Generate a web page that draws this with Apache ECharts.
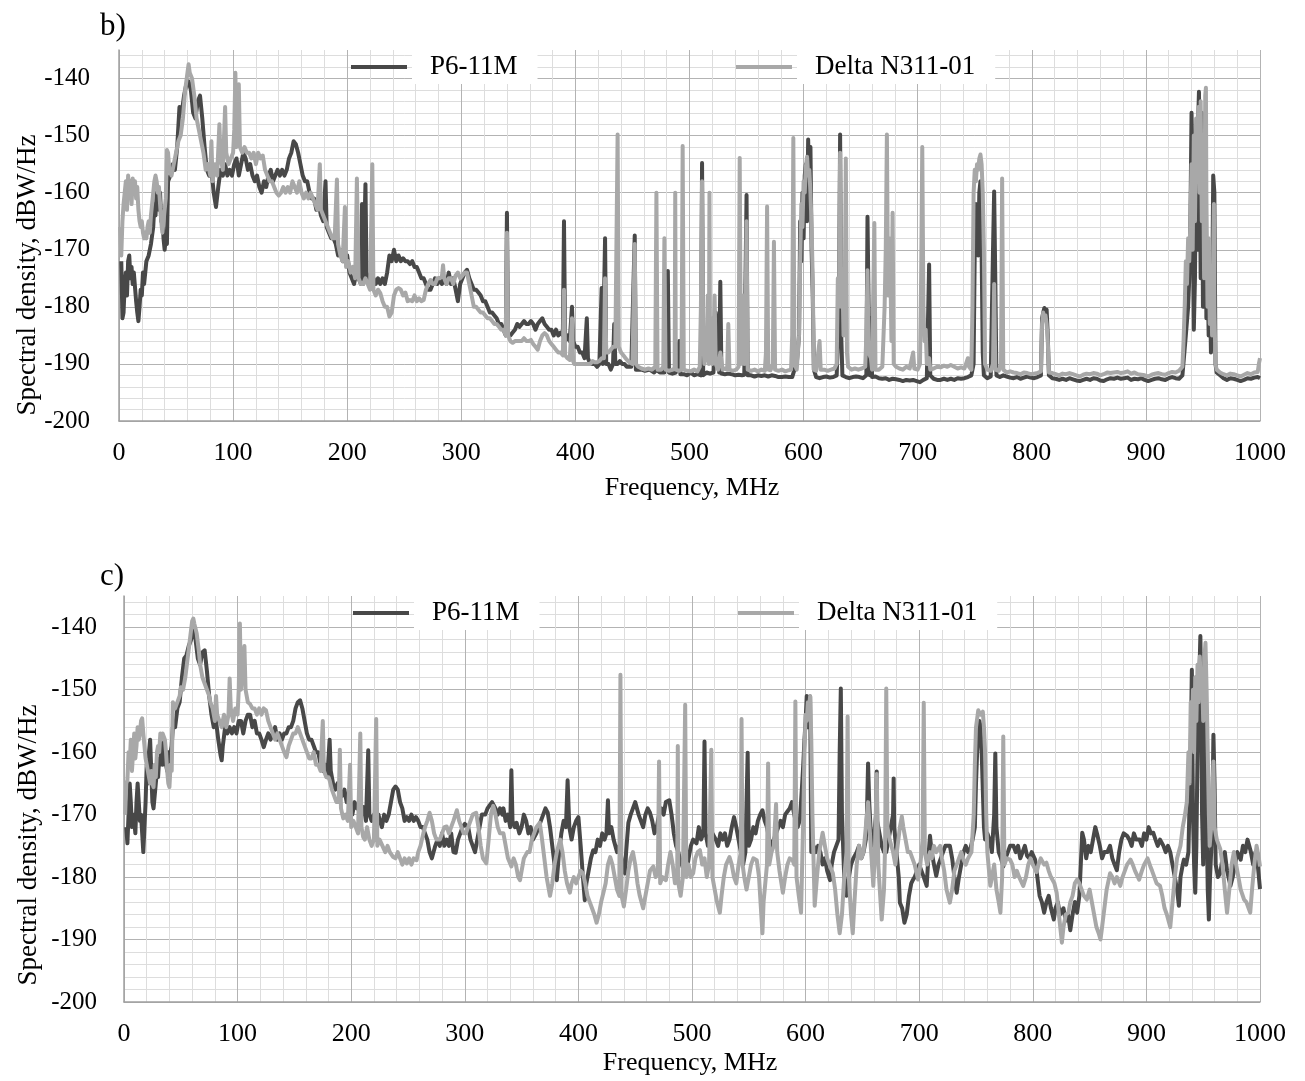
<!DOCTYPE html>
<html>
<head>
<meta charset="utf-8">
<script src="https://cdn.jsdelivr.net/npm/echarts@6/dist/echarts.min.js"></script>
<style>
html,body{margin:0;padding:0;background:#ffffff;}
#chart{width:1305px;height:1081px;}
</style>
</head>
<body>
<div id="chart"></div>
<script>
// ---------- labels ----------
const seriesNames = ['P6-11M', 'Delta N311-01'];
const panelLabels = ['b)', 'c)'];
const xName = 'Frequency, MHz';
const yName = 'Spectral density, dBW/Hz';

// ---------- panel b) : P6-11M ----------
const p6_b = [
[2,-172],[3,-182],[4,-181],[5,-176],[6,-174],[7,-178],[8,-172],[9,-171],[10,-175],[11,-173],[12,-176],[13,-174],[15,-179],[16,-181],[17,-182.5],[18,-180],[19,-177],[20,-178],[21,-174],[22,-176],[24,-172],[26,-171],[28,-169],[30,-166],[31,-162],[32,-164],[33,-160],[34,-161],[35,-163],[36,-160],[37,-165],[38,-163],[39,-168],[40,-170],[41,-168],[42,-169],[43,-158],[45,-157],[47,-155],[49,-156],[51,-152],[53,-145],[55,-146],[57,-143],[59,-141],[61,-140.5],[63,-142],[65,-146],[67,-147],[69,-144],[71,-143],[73,-147],[75,-152],[77,-156],[79,-157],[81,-156],[83,-160],[85,-162.5],[87,-159],[89,-156],[91,-157],[93,-155],[95,-157],[97,-156],[99,-157],[101,-155],[103,-154],[105,-157],[107,-155],[109,-153],[111,-154],[113,-156],[115,-155],[117,-157],[119,-158],[121,-157],[123,-159],[125,-160],[127,-158],[129,-159],[131,-157],[133,-156],[135,-158],[137,-157],[139,-156],[141,-157],[143,-156],[145,-157],[147,-156],[149,-154],[151,-153],[153,-151],[155,-151.5],[157,-153],[159,-155],[161,-157],[163,-158],[165,-158],[167,-160],[169,-161],[171,-161],[173,-163],[175,-162],[177,-164],[179,-165],[181,-158],[182,-166],[184,-167],[186,-168],[188,-168],[190,-169],[192,-171],[194,-170],[196,-172],[198,-172],[200,-171],[202,-174],[204,-175],[206,-176],[208,-174],[210,-175],[212,-176],[213,-162],[214,-176],[216,-158.5],[217,-175],[219,-175],[221,-174],[223,-175],[225,-176],[227,-175],[229,-176],[231,-175],[233,-176],[235,-174],[237,-171],[239,-172],[241,-170],[243,-172],[245,-171],[247,-172],[249,-171.5],[251,-172],[253,-172],[255,-172.5],[257,-172],[259,-173],[261,-173],[263,-174],[265,-175],[267,-175],[269,-176],[271,-177],[273,-177],[275,-176],[277,-175],[279,-176],[281,-175],[283,-176],[285,-175],[287,-176],[289,-174],[291,-176],[293,-175],[295,-177],[297,-179],[299,-176],[301,-175],[303,-174],[305,-173.5],[307,-175],[309,-176],[311,-177],[313,-177],[315,-177.5],[317,-178],[319,-179],[321,-179],[323,-180],[325,-181],[327,-181],[329,-181.5],[331,-182],[333,-183],[335,-183],[337,-184],[339,-185],[340,-163.5],[341,-185],[343,-185],[345,-184.5],[347,-184],[349,-183],[351,-183.5],[353,-183],[355,-182.5],[357,-183],[359,-183],[361,-182.5],[363,-183],[365,-184],[367,-183],[369,-182.5],[371,-182],[373,-183],[375,-183.5],[377,-184],[379,-184],[381,-185],[383,-184],[385,-185],[387,-184.5],[389,-185],[390,-165],[391,-186],[393,-185],[395,-186],[397,-180],[398,-186],[400,-187],[402,-187],[404,-188],[406,-188],[408,-189],[410,-182],[411,-189],[413,-190],[415,-190],[417,-190],[419,-190.5],[421,-190],[423,-176.7],[424,-190],[426,-168],[427,-190],[429,-190],[431,-191],[433,-190],[434,-183],[435,-190],[437,-190],[439,-189.5],[441,-190],[443,-190],[445,-190.5],[447,-190.5],[449,-190.5],[452,-167.5],[453,-191],
[455,-191],[458,-191],[461,-191.2],[465,-191],[469,-191.5],[471,-191],[474,-191.5],[478,-191.5],[481,-173.7],[482,-191.5],[485,-191.7],[488,-191.5],[491,-186],[492,-191.8],[495,-191.8],[498,-192],[501,-191.5],[504,-192],[507,-191.8],[510,-192],[511,-154.8],[512,-192],[515,-191.5],[518,-191.7],[521,-191.5],[523,-181],[524,-184],[525,-186],[526,-191.5],[527,-175.6],[528,-191.7],[531,-191.8],[534,-191.7],[537,-191.8],[540,-192],[543,-191.9],[546,-192],[548,-191.9],[550,-160.4],[551,-192],[554,-192],[557,-192.2],[560,-192],[563,-192.1],[566,-192],[569,-192.2],[572,-192],[575,-192.1],[578,-192.3],[581,-192.3],[584,-192.2],[587,-192.3],[590,-192.3],[592,-191],[594,-190],[596,-185],[597,-165],[598,-172],[599,-160],[600,-168],[601,-157],[602,-155],[603,-165],[604,-150.7],[605,-160],[606,-152],[607,-170],[608,-178],[609,-191],[611,-192.3],[614,-192.5],[617,-192.3],[620,-192.2],[623,-192.4],[626,-192.3],[629,-192],[631,-180],[632,-149.8],[633,-185],[634,-192],[637,-192.3],[640,-192.5],[643,-192.3],[646,-192.2],[649,-192.3],[652,-192.5],[655,-192],[656,-164.2],[657,-180],[658,-192],[659,-182],[660,-192.3],[663,-192.2],[666,-192.5],[669,-192.6],[672,-192.5],[675,-192.8],[678,-192.6],[681,-192.7],[684,-192.8],[687,-193],[690,-192.8],[693,-192.9],[696,-192.8],[699,-193],[702,-193.2],[705,-192.8],[708,-192.5],[710,-172.6],[711,-192],[714,-192.6],[717,-192.8],[720,-192.8],[723,-192.6],[726,-192.8],[729,-192.6],[732,-192.8],[735,-192.5],[738,-192.6],[741,-192.5],[744,-192.3],[747,-192],[749,-190],[750,-170],[751,-162],[752,-165],[753,-171],[754,-160],[755,-158],[756,-170],[757,-188],[758,-192],[761,-192.5],[764,-192.2],[766,-170],[767,-159.8],[768,-175],[769,-192],[772,-192.3],[775,-192],[778,-192.2],[781,-192.4],[784,-192.5],[787,-192.3],[790,-192.6],[793,-192.4],[796,-192.2],[799,-192.4],[802,-192.5],[805,-192.3],[808,-192],[809,-182],[810,-181],[811,-180.2],[812,-181],[813,-180.5],[814,-185],[815,-192],[818,-192.5],[821,-192.6],[824,-192.8],[827,-192.6],[830,-192.8],[833,-192.5],[836,-192.7],[839,-192.9],[842,-193],[845,-192.8],[848,-192.6],[851,-192.8],[854,-192.5],[857,-192.6],[860,-192.9],[863,-193],[866,-192.7],[869,-192.5],[872,-192.6],[875,-192.4],[878,-192.6],[881,-192.5],[884,-192.4],[887,-192.8],[890,-192.6],[893,-192.7],[896,-192.5],[899,-192.8],[902,-193],[905,-192.8],[908,-192.6],[911,-192.5],[914,-192.7],[917,-192.8],[920,-192.5],[923,-192.3],[926,-192.5],[929,-192.6],[932,-192],[935,-185],[937,-180],[938,-175],[939,-165],[940,-146],[941,-160],[942,-184],[943,-175],[944,-150],[945,-170],[946,-146],[946.5,-142.3],[947,-150],[948,-175],[949,-146],[950,-180],[951,-170],[952,-150],[953,-182],[954,-172],[955,-185],[956,-175],[957,-188],[958,-180],[959,-157],[960,-160],[961,-190],[962,-191.5],[965,-192],[968,-192.5],[971,-192.8],[974,-192.5],[977,-192.6],[980,-192.8],[983,-193],[986,-192.8],[989,-192.5],[992,-192.6],[995,-192.4],[998,-192.3],[1000,-192.5]
];

// ---------- panel b) : Delta N311-01 ----------
const delta_b = [
[1,-166],[2,-171],[3,-165],[4,-162],[5,-160],[6,-158],[7,-163],[8,-157],[9,-160],[10,-158],[11,-162],[12,-157.5],[13,-160],[14,-158],[15,-161],[16,-159],[17,-163],[18,-165],[19,-166],[20,-165],[21,-167],[22,-168],[23,-167],[24,-168],[25,-166],[26,-165],[27,-167],[28,-164],[29,-162],[30,-160],[31,-158],[32,-157],[33,-158],[34,-160],[35,-159],[36,-162],[37,-165],[38,-167],[39,-165],[40,-163],[41,-161],[42,-152.5],[43,-153],[44,-156],[46,-157],[48,-155],[50,-153],[52,-151],[54,-150],[56,-147],[58,-142],[60,-139],[61,-137.5],[62,-139],[64,-140],[66,-143],[68,-147],[70,-149],[72,-151],[74,-153],[76,-156],[78,-155],[80,-157],[81,-151],[82,-158],[84,-155],[86,-157],[88,-148],[89,-154],[91,-156],[93,-145],[94,-153],[96,-155],[98,-154],[100,-153],[101,-149],[102,-139],[103,-152],[104,-150],[105,-141],[106,-152],[108,-153],[110,-152],[112,-153],[114,-153],[116,-154],[118,-153],[120,-155],[122,-153],[124,-154],[126,-153.5],[128,-156],[130,-157],[132,-158],[134,-158],[136,-159],[138,-160],[140,-160.5],[142,-160],[144,-159],[146,-160],[148,-159],[150,-160],[152,-158],[154,-159],[156,-160],[158,-158],[160,-160],[162,-161],[164,-160],[166,-161],[168,-160],[170,-161],[172,-162],[174,-163],[176,-155],[177,-163],[179,-164],[181,-165],[183,-166],[185,-167],[187,-168],[189,-168],[191,-157.7],[192,-169],[194,-171],[196,-172],[198,-162.5],[199,-173],[201,-172],[203,-174],[205,-173],[207,-175],[208.5,-157.5],[210,-175],[212,-176],[214,-176],[216,-175],[218,-176],[220,-177],[222,-155],[223,-177],[225,-178],[227,-177],[229,-177.6],[231,-179],[233,-180],[235,-180],[237,-181.7],[239,-181],[241,-178],[243,-177],[245,-176.7],[247,-177],[249,-178],[251,-177.5],[253,-179],[255,-178.8],[257,-179],[259,-178],[261,-179],[263,-178.5],[265,-179],[267,-178.8],[269,-177],[271,-176],[273,-175.3],[275,-176],[277,-176],[279,-175],[281,-175],[283,-174.7],[284,-172.7],[285,-175],[287,-176],[289,-175],[291,-175],[293,-176],[295,-174.5],[297,-174],[299,-175],[301,-174.5],[303,-174],[305,-174],[307,-176],[309,-178],[311,-180],[313,-180],[315,-180.5],[317,-181],[319,-181],[321,-181.5],[323,-182],[325,-182],[327,-182.5],[329,-183],[331,-183],[333,-183.5],[335,-184],[337,-184],[339,-185],[340,-167],[341,-185],[343,-186],[345,-186.3],[347,-186],[349,-186],[351,-186],[353,-186],[355,-185.5],[357,-186],[359,-186],[361,-185.8],[363,-186.5],[365,-187],[367,-187.5],[369,-186],[371,-185],[373,-184.6],[375,-185],[377,-186],[379,-186.5],[381,-187],[383,-187.5],[385,-188],[387,-188],[389,-188.5],[390,-177],[391,-188.5],[393,-189],[395,-189.3],[397,-182],[398,-189.5],[399,-190],[401,-190],[403,-190],[405,-190],[407,-190],[409,-190],[411,-190],[413,-190],[415,-189.5],[417,-189.7],[419,-189.7],[421,-189.5],[423,-189],[425,-189],[426,-175],[427,-188],[429,-188],[431,-187.5],[433,-187],[435,-187],[437,-149.8],[438,-187],[440,-188],[442,-188.5],[444,-189],[446,-189.5],[448,-189.8],[450,-190],[452,-169],[453,-190],
[455,-190.5],[458,-190.8],[461,-191],[464,-190.8],[467,-191],[470,-190.5],[471,-160],[472,-191],[475,-191],[477,-190.5],[478,-168],[479,-191],[482,-191.2],[485,-191],[487,-190.8],[487.5,-160],[488,-191],[491,-191.2],[493,-191],[494,-151.8],[495,-191],[498,-191.2],[501,-191.3],[504,-191],[507,-191.3],[509,-190.5],[510,-180],[511,-158],[512,-185],[513,-190],[515,-188],[516,-178],[517,-190],[517.5,-160],[518,-188],[519,-182],[520,-190],[521,-186],[522,-178],[523,-190],[525,-191],[527,-188],[529,-191],[531,-190.8],[533,-191],[534,-183],[535,-191],[538,-191.2],[541,-191],[543,-190.5],[544,-153.9],[545,-190],[546,-186],[547,-178],[548,-190],[549,-185],[550,-165],[551,-191],[554,-191.2],[557,-191],[560,-191.3],[563,-191],[566,-191.2],[567,-188],[568,-162.4],[569,-191],[571,-191.1],[573,-190],[574,-168.6],[575,-191],[578,-191.2],[581,-191],[584,-191.3],[587,-191.1],[589,-191],[590,-185],[591,-150.4],[592,-190],[594,-191],[596,-185],[597,-172],[598,-162],[599,-166],[600,-158],[601,-160],[602,-155.5],[603,-153.7],[604,-157],[605,-156],[606,-160],[607,-166],[608,-175],[609,-191],[611,-191.2],[614,-186],[615,-191],[618,-191],[621,-191.2],[624,-191],[627,-190.8],[629,-190],[630,-175],[631,-180],[632,-153],[633,-180],[634,-175],[635,-185],[636,-180],[637,-154],[638,-188],[639,-190.5],[642,-191],[645,-190.8],[648,-191],[651,-190.8],[654,-190.5],[655,-185],[656,-173.6],[657,-188],[659,-189],[660,-191],[662,-165.3],[663,-191],[666,-191],[669,-190.5],[671,-180],[672,-170],[673,-149.8],[674,-178],[675,-168],[676,-173],[677,-186],[678,-163.5],[679,-190],[681,-190.5],[684,-190.8],[687,-191],[690,-190.5],[693,-190.8],[696,-188],[697,-190.8],[700,-191],[702,-190],[703,-175],[704,-152],[705,-180],[706,-186],[707,-184],[708,-190],[710,-189],[711,-191],[714,-190.8],[717,-190.5],[720,-190.6],[723,-190.3],[726,-190.5],[729,-190.2],[732,-190.5],[735,-190.8],[738,-190.6],[741,-190.8],[744,-189],[745,-190.5],[747,-191],[748,-180],[749,-160],[750,-156],[751,-158],[752,-155],[753,-156],[754,-154],[755,-153.3],[756,-155],[757,-160],[758,-170],[759,-190],[761,-191],[764,-191.2],[766,-190],[767,-176],[768,-191],[771,-191.2],[773,-190],[774,-157.5],[775,-191],[778,-191.5],[781,-191.3],[784,-191.5],[787,-191.6],[790,-191.8],[793,-191.5],[796,-191.6],[799,-191.8],[802,-191.7],[805,-191.6],[808,-191.3],[809,-183],[810,-181],[811,-182],[812,-181.5],[813,-183],[814,-186],[815,-191.5],[818,-191.6],[821,-191.8],[824,-192],[827,-191.7],[830,-191.8],[833,-191.6],[836,-191.8],[839,-192],[842,-192.2],[845,-191.9],[848,-191.7],[851,-191.8],[854,-191.6],[857,-191.7],[860,-192],[863,-191.8],[866,-191.5],[869,-191.6],[872,-191.5],[875,-191.4],[878,-191.6],[881,-191.5],[884,-191.3],[887,-191.7],[890,-191.5],[893,-191.8],[896,-191.9],[899,-192],[902,-192.2],[905,-191.9],[908,-191.7],[911,-191.6],[914,-191.8],[917,-191.9],[920,-191.6],[923,-191.4],[926,-191.5],[929,-191.2],[932,-190.5],[933,-186],[934,-180],[935,-172],[936,-176],[937,-168],[938,-172],[939,-165],[940,-155],[941,-170],[942,-150],[943,-165],[944,-147],[945,-158],[946,-145],[947,-160],[948,-144],[949,-165],[950,-150],[951,-175],[952,-143],[952.6,-141.6],[953,-160],[954,-180],[955,-168],[956,-183],[957,-175],[958,-185],[959,-170],[959.6,-162],[960,-180],[961,-190],[962,-191],[965,-191.5],[968,-191.8],[971,-192],[974,-191.7],[977,-191.8],[980,-192],[983,-192.2],[986,-191.9],[989,-191.6],[992,-191.8],[995,-191.5],[998,-191.4],[999,-190],[1000,-189]
];

// ---------- panel c) : P6-11M ----------
const p6_c = [
[2,-172],[3,-174.6],[4,-170],[5,-165],[6,-168],[7,-172],[8,-170],[9,-171],[10,-173],[11,-168],[12,-165],[13,-168],[14,-171],[15,-170],[16,-173],[17,-176],[18,-172],[19,-168],[20,-162],[21,-165],[22,-160],[23,-158],[24,-163],[25,-168],[26,-169],[27,-167],[28,-165],[29,-163],[30,-164],[31,-161],[32,-162],[33,-158],[34,-162],[35,-158],[36,-160],[37,-162],[38,-163],[39,-160],[40,-163],[41,-160],[42,-159],[43,-156],[45,-156],[47,-153],[49,-152],[51,-148],[53,-145],[55,-144.5],[57,-143],[59,-142],[61,-140],[63,-142],[65,-145],[67,-146],[69,-144],[71,-143.7],[73,-147],[75,-151],[77,-154],[79,-156],[81,-155],[83,-158],[85,-160.5],[86,-161.3],[87,-159],[89,-156],[91,-157],[93,-156],[95,-157],[97,-156],[99,-157],[101,-155],[103,-155],[105,-157],[107,-155],[109,-154],[111,-154],[113,-156],[115,-155],[117,-157],[119,-157],[121,-158],[123,-159.2],[125,-158],[127,-157],[129,-158],[131,-157],[133,-156],[135,-158],[137,-157],[139,-158],[141,-157],[143,-157],[145,-156],[147,-156],[149,-155],[151,-153],[153,-152],[155,-151.7],[157,-153],[159,-155],[161,-157],[163,-158],[165,-158],[167,-159],[169,-160],[171,-160],[173,-162],[175,-163],[177,-162],[179,-164],[181,-158],[182,-163],[184,-165],[186,-166],[188,-165],[190,-166.6],[192,-167],[194,-166],[196,-168],[198,-167],[199,-167.7],[201,-170],[203,-168],[205,-169],[207,-168],[209,-170],[211,-168.8],[213,-171],[215,-159.7],[216,-170],[218,-171],[220,-170],[222,-171],[224,-170],[225,-170.8],[227,-172],[229,-170],[231,-171],[233,-170],[235,-168],[237,-166],[239,-165.5],[241,-166],[243,-168],[245,-169],[247,-171],[249,-170.4],[251,-171],[253,-170],[255,-171],[257,-170.4],[259,-171],[261,-172],[263,-172],[265,-173],[267,-174],[269,-176],[271,-177],[272,-177.2],[274,-175],[276,-174],[278,-175],[280,-173],[282,-175],[284,-174],[286,-175],[288,-173],[290,-176],[292,-176.1],[294,-174],[296,-173],[298,-172],[300,-171.5],[301,-171.3],[303,-172],[305,-174],[307,-175],[309,-176],[311,-174],[313,-172],[315,-170],[316,-169.7],[318,-170],[320,-169],[322,-168.5],[324,-168],[325,-168],[327,-169],[329,-170],[331,-169],[333,-170],[334,-169],[336,-171],[338,-170],[340,-172],[341,-162.9],[342,-171],[344,-172],[345.6,-171.3],[348,-173],[350,-172],[352,-170],[354,-171],[356,-173],[358,-172],[360,-174],[363,-173],[365,-172],[367,-171],[369,-170],[371,-169],[373,-169.7],[375,-172],[377,-175],[379,-178],[381,-180.5],[383,-176],[385,-173],[387,-171],[389,-172],[390.5,-164.5],[392,-172],[394,-174],[396,-172],[398,-171],[400,-170.4],[402,-175],[404,-180],[405.6,-183.7],[407,-181],[409,-179],[411,-177],[413,-175.7],[415,-176],[417,-174],[419,-175],[421,-173],[423,-174],[424.7,-173],[426,-167.7],[427,-173],[429,-172],[431,-174],[432,-174],[434,-176],[436,-175],[438,-177],[440,-179],[441,-179.4],[442,-176],[444,-171.3],[446,-170],[448,-169],[450,-168],[451,-168],[453,-170],[455,-171],[457,-172],[459,-170],[461,-169],[463,-169.7],[465,-171],[467,-173],[469,-172],[471,-170],[473,-169],[475,-170],[477,-168],[480,-167.7],[482,-170],[484,-173],[486,-175],[488,-176],[489,-176.8],[491,-178],[493,-179],[495,-179.4],[497,-177],[499,-175],[501,-174],[504,-174.6],[506,-172],[508,-174],[510,-173],[511,-158.3],[512,-173],[514,-175],[516,-174],[518,-173],[521,-174],[523,-175],[525,-173],[527,-174],[529,-173],[531,-175],[533,-174],[535,-172],[537,-170.4],[539,-172],[541,-174],[543,-176],[545,-178],[547,-176],[549,-160.1],[550,-175],[552,-174],[554,-172],[556,-173],[558,-171],[560,-170],[562,-169.3],[564,-171],[566,-172],[568,-174],[570,-175],[572,-174],[574,-173],[576,-172],[578,-171],[580,-172],[582,-170],[584,-169.5],[586,-169],[588,-168],[590,-170],[591,-170.8],[593,-172],[595,-170.8],[597,-165],[598,-161.8],[599,-158],[600,-155],[601,-151],[602,-156],[603,-152],[604,-151.1],[605,-176],[607,-175],[609,-176],[611,-175],[613,-176],[615,-178],[617,-177],[619,-179],[621.5,-180.5],[623,-178],[625,-176],[627,-175],[629,-174],[630,-160],[631,-149.8],[632,-170],[634,-180],[636,-183],[638,-180],[640,-178],[642,-177],[645,-176],[647,-175],[649,-177],[651,-176],[653,-174],[654,-170],[655,-161.8],[656,-168],[658,-175],[660,-174],[662,-170],[662.6,-163.1],[663,-171],[665,-173],[667,-175],[669,-176],[671,-176],[673,-174],[675,-172],[677,-170],[677.5,-164.2],[678,-172],[680,-176],[682,-180],[683,-184.1],[685,-185],[687,-187.3],[689,-186],[691,-183],[693,-181],[694.6,-180.4],[696,-180],[698,-179],[700,-178],[702,-179],[704,-180],[706.6,-181.4],[708,-177],[709.5,-173.4],[711,-176],[713,-178],[715,-179.8],[717,-178],[719,-177],[721,-176],[723,-175],[725,-175],[727,-175],[729,-177],[731,-180],[733,-182.5],[735,-180],[737,-178],[739,-176],[741,-175],[743,-176],[745,-175.5],[747,-174],[749,-172],[750,-165],[751,-160],[752,-157],[753,-155],[754,-156],[755,-160],[756,-166],[757,-172],[758,-174],[760,-173],[762,-174],[764,-176],[766,-170],[767,-160.2],[768,-172],[770,-176],[772,-177],[774,-178.3],[776,-177],[778,-176],[780,-175],[783,-175],[785,-176],[787,-175],[789,-177],[791,-176],[793,-175],[795,-176.6],[797,-177],[799,-176],[802,-177.2],[804,-180],[806,-183],[808,-184],[810,-185.7],[812,-184],[814,-183],[816,-185],[818.5,-186.8],[820,-185],[822,-184],[824,-186],[827,-185],[829,-187],[831,-186],[833,-188.5],[835,-186],[837,-184],[839,-185.7],[841,-183],[843.5,-172.9],[845,-174],[847,-177],[849,-175],[851,-176],[853,-174],[855,-172],[857,-173.4],[859,-175],[861,-177],[863,-176],[865.6,-176],[868,-175],[870,-177],[872,-178],[874,-178.9],[876,-176],[878,-174],[880,-173],[883,-173.4],[885,-174],[887,-175],[889,-173],[891,-174],[894,-174],[896,-175],[898,-173],[900,-174],[902,-172],[904,-173],[906,-172.9],[908,-174],[910,-175],[912,-174],[915,-175],[917,-176],[919,-175],[921,-176],[923,-178],[925,-180],[927,-182],[928.6,-184.6],[930,-180],[932,-178],[933,-177.2],[935,-178],[937,-176],[939,-160],[940,-146.8],[941,-170],[942,-178],[943,-182.5],[944,-175],[945,-160],[946,-150],[947,-145],[947.5,-141.4],[948,-148],[949,-170],[950,-178],[951,-160],[952,-145.6],[953,-170],[954,-182],[955,-186.8],[956,-180],[957,-176],[958,-170],[959,-157.2],[960,-165],[961,-178],[963,-180],[965,-179.4],[967,-177],[969,-176],[971,-179],[974,-181.4],[976,-180],[978,-178],[980,-176],[983,-177.2],[985,-175],[987,-176],[989,-174],[990,-174],[992,-176],[994,-178],[996,-176],[998,-178],[1000,-181.9]
];

// ---------- panel c) : Delta N311-01 ----------
const delta_c = [
[1,-170],[2,-165],[3,-164.5],[4,-160],[5,-162],[6,-158],[7,-163],[8,-160],[9,-157],[10,-161],[11,-159],[12,-156],[13,-158],[14,-157],[15,-155],[16,-154.6],[17,-157],[18,-159],[19,-161],[20,-161],[21,-163],[22,-164],[23,-165],[24,-163],[25,-165],[26,-165.6],[27,-162],[28,-164],[29,-160],[30,-159],[31,-160],[32,-157],[33,-158],[34,-157],[35,-156.8],[36,-158],[37,-160],[38,-163],[39,-165],[40,-165.6],[41,-162],[42,-163],[43,-152],[45,-153],[47,-152],[49,-151],[50,-149.6],[52,-150],[54,-148],[56,-145],[58,-142],[60,-139],[61,-138.6],[62,-139.5],[64,-141],[66,-144],[67,-146],[69,-148],[71,-149],[73,-150],[75,-151],[76,-152],[78,-153],[80,-155],[81,-151],[82,-154],[84,-155],[86,-156],[88,-154],[90,-156],[92,-154],[93,-148.2],[94,-153],[96,-155],[98,-153],[100,-154],[101,-150],[102,-139.4],[103,-150],[104,-148],[105,-145],[106,-143],[107,-150],[109,-152],[111,-152.3],[113,-153],[115,-153],[117,-154],[119,-153],[121,-154],[123,-153],[125,-153.3],[127,-155],[129,-156],[131,-157],[133,-158],[135,-157],[137,-158],[139,-159],[141,-160],[143,-160.8],[145,-159],[147,-158],[149,-157],[151,-157],[153,-156],[155,-157],[157,-158],[159,-159],[161,-160],[163,-161],[165,-161],[167,-160],[169,-162],[171,-162],[173,-163],[175,-155],[176,-163],[178,-164],[180,-164],[181,-164.5],[183,-166],[185,-167],[187,-168],[189,-168],[190,-159.6],[191,-169],[193,-170.6],[195,-170],[197,-171],[199,-162],[200,-172],[202,-171],[204,-172],[206,-173],[208,-157],[209,-172],[210.6,-173.6],[212,-174],[214,-172],[216,-174],[218,-175],[220,-174],[222,-154.7],[223,-175],[225,-174],[228,-175.2],[230,-176],[232,-175],[234,-176],[237,-176.8],[239,-177],[241,-176],[243,-177],[245,-178],[247,-177],[249,-177.8],[251,-177],[253,-178],[255,-177],[257.6,-177.3],[259,-176],[261,-175],[263.5,-173],[265,-172],[267,-171],[269,-169.7],[271,-171],[273,-173],[275,-174],[278,-174],[280,-173],[282,-172],[284,-171.9],[286,-173],[288,-172],[290,-171],[293,-169.3],[295,-171],[297,-172],[299,-173],[301,-173],[303,-172],[305,-171],[307,-170],[310,-169.7],[312,-172],[314,-175],[316,-177],[319,-177.8],[321,-174],[323,-170],[325,-168.6],[327,-170],[329,-172],[331,-173],[334,-173],[336,-175],[338,-177],[341,-178.3],[343,-177],[345,-178],[347,-180],[348.6,-180.5],[350,-179],[352,-177],[355,-176],[357,-176],[359,-174],[361,-173],[363,-172],[366,-171.3],[368,-174],[370,-177],[372,-180],[375,-183],[377,-181],[379,-178],[381,-176],[384,-174],[386,-176],[388,-179],[390,-181],[392.5,-182.5],[394,-181],[396,-180],[398,-181],[400,-180],[402,-179],[404,-179.4],[406,-181],[408,-183],[410,-184],[412,-185],[414,-186],[416,-187.3],[418,-186],[420,-184],[422,-182.5],[424,-181],[426,-178],[428,-176.8],[430,-178],[432,-180],[434,-182],[436,-183],[437,-147.6],[438,-183],[440,-184.7],[442,-182],[444,-179],[446,-177],[448,-176],[450,-178],[452,-181],[454,-183],[457,-185],[459,-183],[461,-181],[463,-179],[466,-178.3],[468,-180],[470,-179],[471,-161.5],[472,-181],[474,-180],[477,-180.5],[479,-178],[481,-176],[483,-178],[485,-181],[487,-180],[487.5,-159],[488,-181],[490,-183],[492,-180],[494,-152.4],[495,-180],[497,-178],[499,-180],[501,-179.4],[503,-177],[505,-176],[507,-175.7],[509,-178],[511,-177],[513,-180],[515,-178],[517,-159.6],[518,-180],[520,-182],[522,-184],[524.5,-185.7],[526,-183],[528,-180],[530,-178],[533,-176.8],[535,-178],[537,-180],[539,-181],[541,-178],[543,-176],[543.6,-154.7],[544.5,-178],[546,-180],[548,-182],[550,-180],[552,-178],[554,-177],[557,-177.3],[559,-180],[561,-186],[562,-189],[563,-184],[565,-180],[566,-178],[567,-161.8],[568,-178],[570,-176],[572,-175],[574,-168.3],[575,-176],[577,-179],[580,-182.5],[582,-180],[584,-178],[586,-177],[588.6,-177.3],[590,-178],[591,-151.9],[592,-180],[594,-183],[596,-185.7],[597,-185.7],[598,-170],[599,-160],[600,-154],[601,-155],[602,-152],[603,-153],[604,-151],[605,-158],[606,-170],[608,-184.6],[610,-180],[612,-176],[615,-172.9],[617,-175],[619,-177],[621,-178],[624,-179.4],[626,-182],[628,-186],[630,-189],[632,-186],[634,-180],[636,-176],[637,-154.3],[638,-180],[640,-186],[641.5,-189],[643,-184],[645,-178],[647,-175],[649,-177],[651,-176],[653,-172],[655,-168],[657,-174],[659.6,-181.4],[661,-176],[662.6,-163.5],[664,-178],[666,-184],[667,-186.8],[669,-182],[670,-175],[671,-149.8],[672,-172],[674,-174],[677,-176],[679,-178],[681,-175],[683,-172],[684.7,-170.3],[686,-172],[688,-174],[690,-176],[692,-176],[694,-177],[696,-178],[699,-180.4],[701,-178],[703,-174],[704,-152.1],[705,-176],[707,-178],[709.5,-176],[711,-177],[713,-175],[715,-176],[718.5,-175],[720,-177],[722,-179],[724,-182],[727,-184.1],[729,-182],[731,-179],[733,-178],[735,-177],[737,-176],[739,-177.2],[741,-178],[743,-177],[746,-176],[748,-170],[749,-162],[750,-156],[752,-153.3],[754,-154],[756,-153.5],[757,-156],[758,-160],[759,-170],[760,-176],[762.6,-181.4],[764,-180],[766,-178],[768,-182],[770,-184],[771.5,-185.7],[773,-180],[774,-157.5],[775,-178],[777,-177],[780,-177.2],[782,-178],[784,-180],[786,-179],[788,-180],[791.6,-181.4],[794,-180],[796,-178],[798,-177],[800,-178],[803.4,-179.2],[805,-178],[807,-177],[810,-178],[812,-177.7],[814,-179],[816,-180],[819,-181],[821,-182.5],[823,-186],[825.6,-190.5],[827,-188],[829,-186],[831.4,-185.7],[833,-184],[835,-183],[837,-181],[839,-180.4],[841,-181],[843,-182],[845,-183],[847.6,-183.6],[850,-182],[852,-184],[854,-186],[856,-188],[858,-189],[859.6,-190],[861,-188],[863,-185],[865,-182],[868,-179.4],[870,-180],[872,-181],[874,-180],[877,-181.4],[879,-180],[881,-179],[883,-178],[886,-177.2],[888,-178],[890,-179],[893.6,-180.4],[896,-179],[898,-178],[901,-177],[903.5,-178.3],[905,-179],[907,-180],[909,-181],[912,-181.4],[914,-183],[916,-185],[918,-186],[921,-188],[923,-184],[925,-180],[927,-177],[930,-175],[932,-172],[934,-170],[935.6,-168],[937,-160],[938,-165],[939,-152],[940,-158],[941,-150],[942,-160],[943,-148],[944,-155],[945,-146],[946,-152],[947,-144.7],[948,-150],[949,-147],[950,-155],[951,-145],[952,-142.5],[953,-150],[954,-160],[955,-170],[955.7,-175],[957,-172],[959,-161.5],[960,-172],[962,-174],[965,-175.5],[967,-178],[969,-182],[971,-185.7],[973,-182],[975,-178],[977,-176],[979,-178],[981,-180],[983,-182],[986,-183.6],[988,-184],[990,-185],[991.4,-185.7],[993,-182],[995,-178],[997,-175],[999,-177],[1000,-178.3]
];

// ---------- styling / layout ----------
const FONT = 'Liberation Serif, "Times New Roman", serif';
const DARK = '#484848';
const LIGHT = '#a8a8a8';
const MAJOR = '#b3b3b3';
const MINOR = '#dddddd';

const grids = [
  {left: 119, top: 50, width: 1141, height: 371},
  {left: 124, top: 596, width: 1136, height: 406}
];
const yLabelMargins = [29, 27];
const xLabelMargins = [19, 19];

function makeX(gi) {
  return {
    gridIndex: gi, type: 'value', min: 0, max: 1000, interval: 100,
    axisLine: {show: true, onZero: false, lineStyle: {color: '#a0a0a0', width: 1.5}},
    axisTick: {show: false},
    axisLabel: {fontFamily: FONT, fontSize: 26, color: '#000', margin: xLabelMargins[gi],
      formatter: function (v) { return String(v); }},
    splitLine: {show: true, lineStyle: {color: MAJOR, width: 1}},
    minorTick: {show: false, splitNumber: 5},
    minorSplitLine: {show: true, lineStyle: {color: MINOR, width: 1}},
    z: 0
  };
}
function makeYMinor(gi) {
  return {
    gridIndex: gi, type: 'value', min: -200, max: -135, interval: 2, position: 'left',
    axisLine: {show: false}, axisTick: {show: false}, axisLabel: {show: false},
    splitLine: {show: true, showMaxLine: false, lineStyle: {color: MINOR, width: 1}},
    z: -1
  };
}
function makeYMajor(gi) {
  return {
    gridIndex: gi, type: 'value', min: -200, max: -135, interval: 10, position: 'left',
    axisLine: {show: true, onZero: false, lineStyle: {color: '#a0a0a0', width: 1.5}},
    axisTick: {show: false},
    axisLabel: {fontFamily: FONT, fontSize: 25, color: '#000', margin: yLabelMargins[gi], showMaxLabel: false,
      formatter: function (v) { return v === -135 ? '' : String(v); }},
    splitLine: {show: true, showMaxLine: false, lineStyle: {color: MAJOR, width: 1}},
    z: 0
  };
}

const panelData = [[p6_b, delta_b], [p6_c, delta_c]];
const colors = [DARK, LIGHT];
const series = [];
panelData.forEach(function (pair, gi) {
  pair.forEach(function (d, si) {
    series.push({
      name: seriesNames[si], type: 'line', xAxisIndex: gi, yAxisIndex: gi * 2 + 1,
      data: d, showSymbol: false, symbol: 'none', smooth: false,
      lineStyle: {color: colors[si], width: 4, join: 'round'},
      itemStyle: {color: colors[si]},
      z: 3 + si, silent: true
    });
  });
});

// legend placement per panel (icon left edge, icon centre y)
const legendPos = [
  [[351, 67], [736, 67]],
  [[353, 613], [738, 613]]
];
const legends = [];
legendPos.forEach(function (row) {
  row.forEach(function (p, si) {
    legends.push({
      data: [{name: seriesNames[si], icon: 'rect'}],
      left: p[0], top: p[1] - 17, padding: 0, itemGap: 0,
      itemWidth: 56, itemHeight: 4, selectedMode: false,
      textStyle: {fontFamily: FONT, fontSize: 27, color: '#000', backgroundColor: '#ffffff',
        padding: [3, 20, 3, 18], lineHeight: 28}
    });
  });
});

const titlePos = [[100, 27], [100, 577]];
const xNamePos = [[692, 488], [690, 1063]];
const yNamePos = [[28, 275], [29, 845]];
const graphics = [];
[0, 1].forEach(function (gi) {
  graphics.push({type: 'text', x: titlePos[gi][0], y: titlePos[gi][1], z: 10,
    style: {text: panelLabels[gi], font: '31px ' + FONT, fill: '#000', textAlign: 'left', textVerticalAlign: 'middle'}});
  graphics.push({type: 'text', x: xNamePos[gi][0], y: xNamePos[gi][1], z: 10,
    style: {text: xName, font: '26px ' + FONT, fill: '#000', textAlign: 'center', textVerticalAlign: 'middle'}});
  graphics.push({type: 'text', x: yNamePos[gi][0], y: yNamePos[gi][1], rotation: Math.PI / 2, z: 10,
    style: {text: yName, font: '27px ' + FONT, fill: '#000', textAlign: 'center', textVerticalAlign: 'middle'}});
});

const chart = echarts.init(document.getElementById('chart'), null, {renderer: 'canvas'});
chart.setOption({
  backgroundColor: '#ffffff',
  animation: false,
  grid: grids.map(function (g) { return Object.assign({containLabel: false, outerBoundsMode: 'none', show: false}, g); }),
  xAxis: [makeX(0), makeX(1)],
  yAxis: [makeYMinor(0), makeYMajor(0), makeYMinor(1), makeYMajor(1)],
  legend: legends,
  series: series,
  graphic: graphics
});
</script>
</body>
</html>
